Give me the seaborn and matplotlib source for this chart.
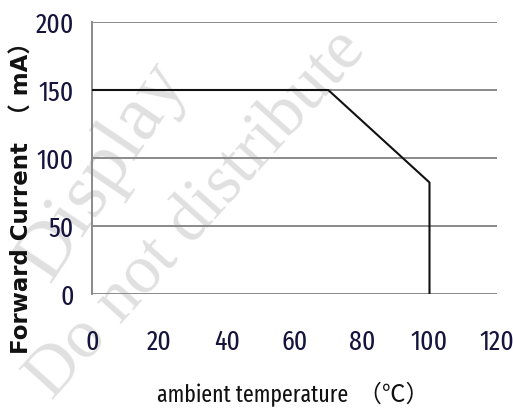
import matplotlib
matplotlib.use("Agg")
import matplotlib.pyplot as plt
import seaborn as sns
import pandas as pd

# ---- data ----
temperature = [0, 70, 100, 100]
forward_current = [150, 150, 82, 0]
x_ticks = [0, 20, 40, 60, 80, 100, 120]
y_ticks = [0, 50, 100, 150, 200]
x_label = "ambient temperature  （℃）"
y_label = "Forward Current  （ mA）"

df = pd.DataFrame({"temp": temperature, "current": forward_current})

sns.set_theme(style="white")
NARROW = ["Fira Sans Extra Condensed", "Noto Sans CJK SC", "DejaVu Sans"]
plt.rcParams["font.family"] = NARROW

fig = plt.figure(figsize=(5.13, 4.08), dpi=100)
ax = fig.add_axes([92 / 513, 1 - 294 / 408, (497 - 92) / 513, (294 - 22) / 408])
ax.patch.set_alpha(0)

# watermark (behind everything)
fig.text(0.10, 0.018, "Do not distribute", rotation=48, fontsize=50,
         family="Liberation Serif", color="#e0e0e0", zorder=-5,
         ha="left", va="baseline", rotation_mode="anchor")
fig.text(0.097, 0.306, "Display", rotation=56, fontsize=57,
         family="Liberation Serif", color="#e0e0e0", zorder=-5,
         ha="left", va="baseline", rotation_mode="anchor")

sns.lineplot(data=df, x="temp", y="current", sort=False, estimator=None,
             color="#111111", linewidth=1.5, ax=ax, zorder=3)

ax.set_xlim(0, 120)
ax.set_ylim(0, 200)
ax.set_xticks(x_ticks)
ax.set_yticks(y_ticks)
ax.set_xticklabels([str(v) for v in x_ticks])
ax.set_yticklabels([str(v) for v in y_ticks])
ax.yaxis.grid(True, color="#8a8a8a", linewidth=1.4)
ax.xaxis.grid(False)
ax.set_axisbelow(True)
for s in ["top", "right", "bottom"]:
    ax.spines[s].set_visible(False)
ax.spines["left"].set_color("#8a8a8a")
ax.spines["left"].set_linewidth(1.4)
ax.tick_params(axis="both", length=0, labelsize=20, colors="#14143c")
ax.tick_params(axis="y", pad=13)
ax.tick_params(axis="x", pad=25)

ax.set_xlabel(x_label, fontsize=17, color="#111111", va="center")
ax.xaxis.set_label_coords(0.497, -0.371)
ax.set_ylabel(y_label, fontsize=16.5, fontweight="bold", color="#111111",
              family=["DejaVu Sans", "Noto Sans CJK SC"], va="center")
ax.yaxis.set_label_coords(-0.173, 0.375)

fig.savefig("out.png", dpi=100)
